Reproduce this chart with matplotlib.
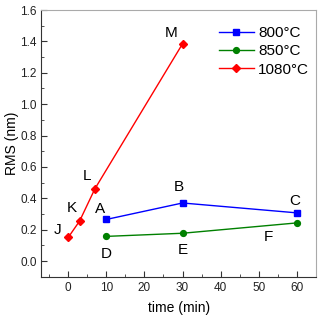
import matplotlib.pyplot as plt
from matplotlib.ticker import MultipleLocator

plt.rcParams['font.family'] = ['Liberation Sans', 'DejaVu Sans']

# ── Data ──────────────────────────────────────────────────────────────────────
t_800 = [10, 30, 60]
rms_800 = [0.265, 0.37, 0.307]
lab_800 = ['A', 'B', 'C']

t_850 = [10, 30, 60]
rms_850 = [0.157, 0.177, 0.243]
lab_850 = ['D', 'E', 'F']

t_1080 = [0, 3, 7, 30]
rms_1080 = [0.15, 0.255, 0.46, 1.385]
lab_1080 = ['J', 'K', 'L', 'M']

# label offsets in data units (dx, dy)
off_800 = [(-1.6, 0.065), (-1.0, 0.105), (-0.6, 0.075)]
off_850 = [(0.1, -0.11), (0.0, -0.105), (-7.6, -0.09)]
off_1080 = [(-2.9, 0.05), (-2.0, 0.085), (-2.0, 0.085), (-3.0, 0.07)]
# ─────────────────────────────────────────────────────────────────────────────

fig = plt.figure(figsize=(3.18, 3.15), dpi=100)
ax = fig.add_axes([0.1305, 0.1216, 0.863, 0.8464])

ax.plot(t_800, rms_800, '-s', color='#0000ff', lw=1.0, ms=4, label='800°C')
ax.plot(t_850, rms_850, '-o', color='#008000', lw=1.0, ms=4.2, label='850°C')
ax.plot(t_1080, rms_1080, '-D', color='#ff0000', lw=1.0, ms=4, label='1080°C')

for ts, ys, labs, offs in [(t_800, rms_800, lab_800, off_800),
                           (t_850, rms_850, lab_850, off_850),
                           (t_1080, rms_1080, lab_1080, off_1080)]:
    for t, y, s, (dx, dy) in zip(ts, ys, labs, offs):
        ax.text(t + dx, y + dy, s, fontsize=11, ha='center', va='center')

ax.set_xlim(-7, 65)
ax.set_ylim(-0.1, 1.6)
ax.xaxis.set_minor_locator(MultipleLocator(5))
ax.yaxis.set_major_locator(MultipleLocator(0.2))
ax.yaxis.set_minor_locator(MultipleLocator(0.1))
ax.set_xticks(range(0, 61, 10))
ax.tick_params(which='both', direction='in', top=False, right=False,
               labelsize=8.5, color='#333333', labelcolor='#222222')
ax.tick_params(which='major', length=4)
ax.tick_params(which='minor', length=2.5)

for side in ['left', 'bottom']:
    ax.spines[side].set_color('#333333')
for side in ['top', 'right']:
    ax.spines[side].set_color('#aaaaaa')

ax.set_xlabel('time (min)', fontsize=10, labelpad=5)
ax.set_ylabel('RMS (nm)', fontsize=10, labelpad=1)

ax.legend(loc='upper right', frameon=False, fontsize=11, handlelength=2.3,
          borderaxespad=0.3, labelspacing=0.28, handletextpad=0.3,
          bbox_to_anchor=(1.015, 0.98))

fig.savefig('out.png', dpi=100)
